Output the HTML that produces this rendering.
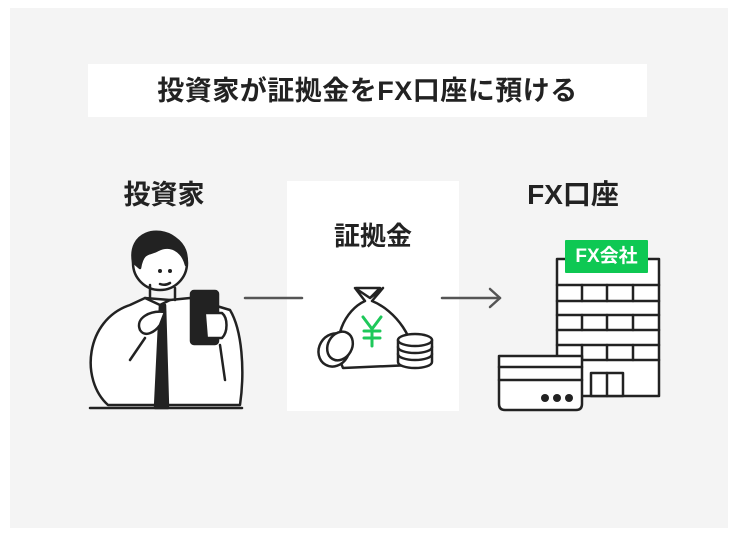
<!DOCTYPE html>
<html><head><meta charset="utf-8"><style>
body{margin:0;width:738px;height:546px;background:#fff;position:relative;overflow:hidden;font-family:"Liberation Sans","Noto Sans CJK JP",sans-serif;}
.t{position:absolute;font-weight:bold;color:#222;white-space:nowrap;}
</style></head><body>
<div style="position:absolute;left:10px;top:8px;width:718px;height:520px;background:#f4f4f4"></div>
<div style="position:absolute;left:88px;top:64px;width:559px;height:53px;background:#fff"></div>
<div class="t" style="left:88px;width:559px;top:75px;text-align:center;font-size:27px;line-height:32px;letter-spacing:0.5px">投資家が証拠金をFX口座に預ける</div>
<div style="position:absolute;left:287px;top:181px;width:172px;height:230px;background:#fff"></div>
<div class="t" style="left:104px;width:120px;top:178px;text-align:center;font-size:27px;line-height:34px">投資家</div>
<div class="t" style="left:300px;width:146px;top:219px;text-align:center;font-size:26px;line-height:34px">証拠金</div>
<div class="t" style="left:503px;width:140px;top:178px;text-align:center;font-size:28px;line-height:34px">FX口座</div>
<svg width="738" height="546" style="position:absolute;left:0;top:0" fill="none" stroke="#222" stroke-width="2.5" stroke-linejoin="round" stroke-linecap="round">
<line x1="245" y1="298" x2="302" y2="298" stroke="#555"/>
<line x1="442" y1="298" x2="500" y2="298" stroke="#555"/>
<polyline points="490,289 500,298 490,307" stroke="#555"/>
<path d="M90,408 L242,408" />
<path d="M108,405 C80,380 85,320 130,305 L145,298 L170,300 L190,298 L230,310 C242,330 245,370 240,405 Z" fill="#fff"/>
<path d="M145,298 L160,305 L170,300" />
<path d="M160,305 L155,408 L168,408 L165,305 Z" fill="#222"/>
<circle cx="160" cy="263" r="27" fill="#fff"/>
<path d="M133,262 C128,232 158,225 175,238 C185,245 188,255 186,265 C182,250 170,244 158,250 C150,255 143,250 140,268 Z" fill="#222"/>
<circle cx="160" cy="271" r="2" fill="#222" stroke="none"/><circle cx="170" cy="271" r="2" fill="#222" stroke="none"/>
<path d="M160,284 Q165,286 170,283"/>
<path d="M150,285 L150,298 M175,288 L175,300"/>
<rect x="191" y="291" width="27" height="53" rx="3" fill="#222"/>
<path d="M206,313 L222,313 C228,318 228,332 222,338 L208,338" fill="#fff"/>
<path d="M165,312 C150,310 135,318 140,330 C145,338 155,332 160,325 Z" fill="#fff"/>
<path d="M130,360 L145,338"/>
<path d="M220,345 L225,380"/>
<path d="M356,288 L380,288 L368,300 Z"/>
<path d="M355,288 L370,298 L383,288 L372,301 C395,310 418,340 412,365 L343,368 C330,340 345,310 365,301 Z" fill="#fff"/>
<g stroke="#1ec85a" stroke-width="3"><path d="M363,317 L372,329 L381,317 M372,329 L372,346 M364,331 L380,331 M364,338 L380,338"/></g>
<ellipse cx="334" cy="350" rx="15" ry="17" fill="#fff" transform="rotate(30 334 350)"/>
<ellipse cx="340" cy="346" rx="12" ry="15" fill="#fff" transform="rotate(30 340 346)"/>
<path d="M398,340 L398,362 A17,6 0 0 0 432,362 L432,340" fill="#fff"/>
<ellipse cx="415" cy="340" rx="17" ry="6" fill="#fff"/>
<path d="M398,347 A17,6 0 0 0 432,347 M398,354 A17,6 0 0 0 432,354"/>
<rect x="557" y="259" width="102" height="137" fill="#fff"/>
<path d="M557,285 H659 M557,301 H659 M557,315 H659 M557,330 H659 M557,345 H659 M557,360 H659"/>
<path d="M582,285 V301 M607,285 V301 M633,285 V301 M582,315 V330 M607,315 V330 M633,315 V330 M582,345 V360 M607,345 V360 M633,345 V360"/>
<rect x="591" y="373" width="32" height="23" fill="#fff"/><path d="M607,373 V396"/>
<path d="M499,356 H582 V404 Q582,410 576,410 H505 Q499,410 499,404 Z" fill="#fff"/>
<path d="M499,367 H582 M499,380 H582"/>
<g fill="#222" stroke="none"><circle cx="545" cy="398" r="4"/><circle cx="557" cy="398" r="4"/><circle cx="569" cy="398" r="4"/></g>
</svg>
<div style="position:absolute;left:565px;top:240px;width:83px;height:33px;background:#0ec853;color:#fff;font-weight:bold;font-size:19px;line-height:33px;text-align:center;border-radius:1px">FX会社</div>
</body></html>
